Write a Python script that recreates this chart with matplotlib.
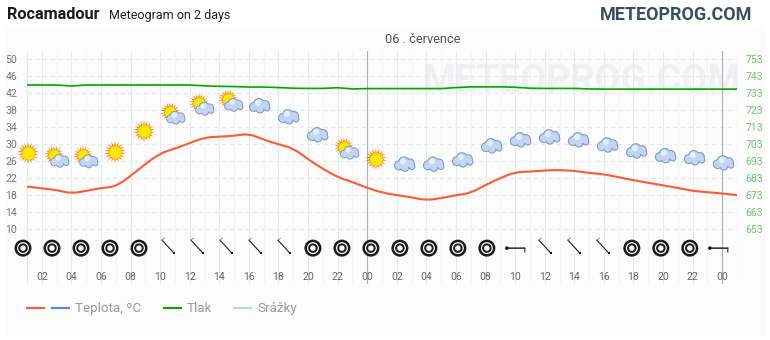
import numpy as np
import matplotlib
matplotlib.use('Agg')
import matplotlib.pyplot as plt
from matplotlib.lines import Line2D
from matplotlib.patches import PathPatch, Rectangle
from matplotlib.path import Path
from matplotlib.transforms import offset_copy

plt.rcParams['font.family'] = ['Roboto', 'DejaVu Sans']

W, H = 770, 340

hours = np.arange(1, 50)
temp = [20.0, 19.6, 19.2, 18.4, 19.0, 19.7, 20.0, 22.5, 25.3, 27.8, 28.9, 30.2, 31.5,
        31.7, 31.9, 32.4, 31.0, 29.9, 29.0, 26.4, 24.2, 22.2, 21.1, 19.7, 18.6, 18.0,
        17.5, 16.8, 17.3, 18.0, 18.5, 20.4, 22.0, 23.4, 23.5, 23.8, 23.9, 23.7, 23.2,
        22.9, 22.2, 21.5, 20.9, 20.3, 19.7, 19.0, 18.7, 18.4, 18.0]
pressure = [737.5, 737.5, 737.5, 736.9, 737.5, 737.5, 737.5, 737.5, 737.5, 737.5, 737.5,
            737.5, 737.0, 736.7, 736.6, 736.3, 736.3, 736.0, 735.6, 735.5, 735.5, 735.9,
            735.2, 735.4, 735.4, 735.4, 735.4, 735.4, 735.4, 736.0, 736.4, 736.4, 736.4,
            736.2, 735.6, 735.5, 735.5, 735.5, 735.2, 735.1, 735.1, 735.1, 735.1, 735.1,
            735.1, 735.1, 735.1, 735.1, 735.1]

temp_ticks = [10, 14, 18, 22, 26, 30, 34, 38, 42, 46, 50]
press_ticks = [653, 663, 673, 683, 693, 703, 713, 723, 733, 743, 753]
hour_ticks = list(range(2, 50, 2))
hour_labels = ['%02d' % (h % 24) for h in hour_ticks]

# weather icons: s = sun, p = sun + cloud, c = cloud
sky = list('sppssppp' 'cccps' 'cccccccccccc')
sky_level = [27.9, 26.7, 26.6, 28.1, 33.0, 36.8, 38.9, 39.8, 38.9, 36.3, 32.1, 28.6, 26.5,
             25.2, 25.2, 26.2, 29.5, 30.9, 31.6, 30.9, 29.7, 28.3, 27.2, 26.7, 25.5]
sky_hours = 1.07 + 1.96 * np.arange(25)

# wind icons: t = calm, a = north-west, w = west
wind = list('ttttt' 'aaaaa' 'ttttttt' 'w' 'aaa' 'ttt' 'w')
wind_hours = 0.73 + 1.96 * np.arange(25)
wind_level = 5.6

dates = '06 . července'

fig = plt.figure(figsize=(W / 100, H / 100), dpi=100, facecolor='white')
fig.add_artist(Rectangle((5 / W, 1 - 336 / H), 760 / W, 309 / H, transform=fig.transFigure,
                         facecolor='#fcfcfc', edgecolor='none', zorder=-5))

ax = fig.add_axes([27 / W, 1 - 284 / H, 710 / W, 233 / H])
ax.patch.set_alpha(0)
ax.set_xlim(1, 49)
ax.set_ylim(-2.8, 51.76)
for s in ax.spines.values():
    s.set_visible(False)

ax2 = ax.twinx()
ax2.set_ylim(653 + (-2.8 - 10) * 2.5, 653 + (51.76 - 10) * 2.5)
for s in ax2.spines.values():
    s.set_visible(False)
ax2.set_yticks(press_ticks)
ax2.tick_params(axis='y', length=0, pad=6, labelsize=7.6, labelcolor='#66cc66')

ax.set_yticks(temp_ticks)
ax.set_xticks(hour_ticks)
ax.set_xticklabels(hour_labels)
ax.tick_params(axis='y', length=0, pad=7, labelsize=7.6, labelcolor='#777777')
ax.tick_params(axis='x', length=0, pad=-8.6, labelsize=7.6, labelcolor='#666666')

# grid
for h in hours[::2]:
    ax.axvline(h, color='#f5f5f6', lw=0.8, zorder=0)
for h in hour_ticks:
    ax.axvline(h, color='#e6ebf0', lw=0.8, zorder=0.5)
ax.axvline(1, color='#e6ebf0', lw=0.8, zorder=0.5)
ax.axvline(49, color='#e6ebf0', lw=0.8, zorder=0.5)
for t in temp_ticks:
    ax.axhline(t, color='#e8e9eb', lw=0.8, ls=(0, (4, 3)), zorder=0.6)
ax.axvline(24, color='#aab3bd', lw=0.8, zorder=0.7)
ax.axvline(48, color='#aab3bd', lw=0.8, zorder=0.7)

ax.text(582 / W, 1 - 81 / H, 'METEOPROG.COM', fontsize=27, fontweight='bold', color='#eff0f2',
        ha='center', va='center', transform=fig.transFigure, zorder=0.2, clip_on=False)

press_level = (np.array(pressure) - 653) / 2.5 + 10
ax.plot(hours, press_level, color='#00a800', lw=1.2, zorder=3)


def smooth_path(xs, ys):
    # quadratic curves through the midpoints, so the line has no corners
    pts = np.column_stack([xs, ys])
    mids = (pts[:-1] + pts[1:]) / 2
    verts = [pts[0], mids[0]]
    codes = [Path.MOVETO, Path.LINETO]
    for i in range(1, len(pts) - 1):
        verts += [pts[i], mids[i]]
        codes += [Path.CURVE3, Path.CURVE3]
    verts.append(pts[-1])
    codes.append(Path.LINETO)
    return Path(verts, codes)


ax.add_patch(PathPatch(smooth_path(hours, temp), facecolor='none', edgecolor='#ff5a30',
                       lw=1.5, zorder=3))


def off(dx, dy):
    return offset_copy(ax.transData, fig=fig, x=dx, y=-dy, units='dots')


def dot(x, y, d, color, dx=0, dy=0, marker='o', edge='none', lw=0, z=5):
    # d is a diameter in pixels
    ax.scatter([x], [y], s=(d * 0.72) ** 2, c=color, marker=marker, edgecolors=edge,
               linewidths=lw, transform=off(dx, dy), clip_on=False, zorder=z)


def segment(x, y, start, end, color='#222222', lw=0.8):
    ax.annotate('', xy=(x, y), xycoords=off(*end), xytext=(x, y), textcoords=off(*start),
                arrowprops=dict(arrowstyle='-', color=color, lw=lw, shrinkA=0, shrinkB=0),
                annotation_clip=False, zorder=6)


def draw_sun(x, y, d=19, dx=0, dy=0):
    dot(x, y, d * 1.15, '#ff7a10', dx, dy, marker=(18, 1, 0))
    dot(x, y, d * 0.7, '#ffe800', dx, dy, edge='#ffa800', lw=0.6)


def draw_cloud(x, y, k=1.0, dx=0, dy=0):
    lobes = [(-6, 1, 10), (-1, -2, 12), (5, -1, 10), (7, 2, 7), (0, 3, 9)]
    for a, b, d in lobes:
        dot(x, y, d * k, '#7d9bd4', dx + a * k, dy + b * k, z=6)
    for a, b, d in lobes:
        dot(x, y, (d - 2.2) * k, '#c3d5f0', dx + a * k, dy + b * k, z=7)
    dot(x, y, 6 * k, '#e6eefa', dx - 2 * k, dy - 3 * k, z=8)


for kind, x, y in zip(sky, sky_hours, sky_level):
    if kind == 's':
        draw_sun(x, y)
    elif kind == 'c':
        draw_cloud(x, y)
    else:
        draw_sun(x, y, d=17, dx=-3, dy=-3)
        draw_cloud(x, y, k=0.9, dx=3, dy=3)

for kind, x in zip(wind, wind_hours):
    if kind == 't':
        dot(x, wind_level, 14.5, 'none', edge='#1a1a1a', lw=1.8, z=6)
        dot(x, wind_level, 7.5, 'none', edge='#1a1a1a', lw=1.4, z=6)
    elif kind == 'a':
        segment(x, wind_level, (-6, -8), (6, 5))
        segment(x, wind_level, (-6, -8), (-3.5, -10), color='#777777', lw=0.6)
        dot(x, wind_level, 2.6, '#111111', 6, 5, marker='s', z=7)
    else:
        segment(x, wind_level, (9, 0), (-9, 0), color='#111111', lw=1.0)
        segment(x, wind_level, (9, 0), (9, 4), color='#333333')
        dot(x, wind_level, 3.5, '#111111', -9, 0, z=7)

# header
fig.text(7 / W, 1 - 14.5 / H, 'Rocamadour', fontsize=11.7, fontweight='bold', color='#1a1a1a', va='center')
fig.text(109 / W, 1 - 16 / H, 'Meteogram on 2 days', fontsize=9.0, color='#222222', va='center')
fig.text(752 / W, 1 - 15 / H, 'METEOPROG.COM', fontsize=13, fontweight='bold', color='#37505f',
         va='center', ha='right')
fig.text(385 / W, 1 - 39.5 / H, dates, fontsize=9.2, color='#555555', va='center')

# legend
legend_items = [(27, 44, '#ff5a30', None), (52, 69, '#4488ff', 'Teplota, ºC'),
                (164, 181, '#00a800', 'Tlak'), (234, 251, '#a0e0f0', 'Srážky')]
for x0, x1, c, label in legend_items:
    fig.add_artist(Line2D([x0 / W, x1 / W], [1 - 308 / H] * 2, color=c, lw=1.5,
                          transform=fig.transFigure))
    if label:
        fig.text((x1 + 6) / W, 1 - 308.5 / H, label, fontsize=9.6, color='#999999', va='center')

fig.savefig('out.png', dpi=100, facecolor='white')
